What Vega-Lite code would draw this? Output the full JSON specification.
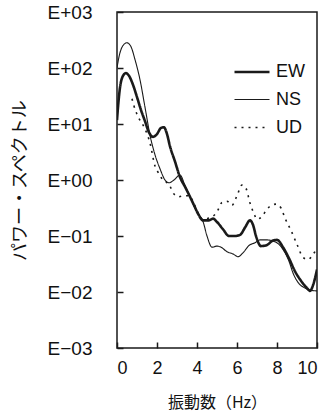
{
 "$schema": "https://vega.github.io/schema/vega-lite/v6.json",
 "width": 200, "height": 336,
 "autosize": {"type": "none"},
 "padding": {"left": 117, "top": 12, "right": 10, "bottom": 64},
 "background": "white",
 "data": {"values": [
  {"f":0.0,"p":11.75,"c":"EW"},{"f":0.05,"p":19.95,"c":"EW"},{"f":0.15,"p":44.67,"c":"EW"},{"f":0.3,"p":72.44,"c":"EW"},{"f":0.45,"p":81.28,"c":"EW"},{"f":0.6,"p":72.44,"c":"EW"},{"f":0.8,"p":50.12,"c":"EW"},{"f":1.0,"p":30.2,"c":"EW"},{"f":1.2,"p":17.78,"c":"EW"},{"f":1.4,"p":11.22,"c":"EW"},{"f":1.6,"p":7.079,"c":"EW"},{"f":1.8,"p":5.888,"c":"EW"},{"f":2.0,"p":6.607,"c":"EW"},{"f":2.2,"p":8.511,"c":"EW"},{"f":2.35,"p":8.71,"c":"EW"},{"f":2.5,"p":6.607,"c":"EW"},{"f":2.65,"p":3.981,"c":"EW"},{"f":2.9,"p":2.138,"c":"EW"},{"f":3.15,"p":1.122,"c":"EW"},{"f":3.4,"p":0.7586,"c":"EW"},{"f":3.65,"p":0.5012,"c":"EW"},{"f":3.85,"p":0.3548,"c":"EW"},{"f":4.05,"p":0.2512,"c":"EW"},{"f":4.3,"p":0.1905,"c":"EW"},{"f":4.6,"p":0.1905,"c":"EW"},{"f":4.8,"p":0.2042,"c":"EW"},{"f":5.0,"p":0.1778,"c":"EW"},{"f":5.3,"p":0.1318,"c":"EW"},{"f":5.6,"p":0.1,"c":"EW"},{"f":5.9,"p":0.1,"c":"EW"},{"f":6.15,"p":0.1047,"c":"EW"},{"f":6.4,"p":0.1413,"c":"EW"},{"f":6.65,"p":0.1905,"c":"EW"},{"f":6.8,"p":0.1585,"c":"EW"},{"f":6.95,"p":0.1,"c":"EW"},{"f":7.2,"p":0.06607,"c":"EW"},{"f":7.5,"p":0.06918,"c":"EW"},{"f":7.8,"p":0.08318,"c":"EW"},{"f":8.0,"p":0.08511,"c":"EW"},{"f":8.3,"p":0.0631,"c":"EW"},{"f":8.6,"p":0.03981,"c":"EW"},{"f":8.9,"p":0.02344,"c":"EW"},{"f":9.2,"p":0.01585,"c":"EW"},{"f":9.5,"p":0.01175,"c":"EW"},{"f":9.65,"p":0.01047,"c":"EW"},{"f":9.8,"p":0.01318,"c":"EW"},{"f":10.0,"p":0.02512,"c":"EW"},
  {"f":0.0,"p":100,"c":"NS"},{"f":0.1,"p":158.5,"c":"NS"},{"f":0.3,"p":251.2,"c":"NS"},{"f":0.5,"p":281.8,"c":"NS"},{"f":0.7,"p":239.9,"c":"NS"},{"f":0.9,"p":141.3,"c":"NS"},{"f":1.15,"p":61.66,"c":"NS"},{"f":1.4,"p":19.95,"c":"NS"},{"f":1.65,"p":6.31,"c":"NS"},{"f":1.9,"p":2.818,"c":"NS"},{"f":2.15,"p":1.585,"c":"NS"},{"f":2.4,"p":1.0,"c":"NS"},{"f":2.6,"p":0.8913,"c":"NS"},{"f":2.85,"p":1.0,"c":"NS"},{"f":3.15,"p":1.23,"c":"NS"},{"f":3.4,"p":0.7943,"c":"NS"},{"f":3.65,"p":0.5012,"c":"NS"},{"f":3.9,"p":0.3162,"c":"NS"},{"f":4.1,"p":0.2399,"c":"NS"},{"f":4.3,"p":0.182,"c":"NS"},{"f":4.5,"p":0.1,"c":"NS"},{"f":4.75,"p":0.0631,"c":"NS"},{"f":5.0,"p":0.06607,"c":"NS"},{"f":5.2,"p":0.0631,"c":"NS"},{"f":5.5,"p":0.05248,"c":"NS"},{"f":5.8,"p":0.04786,"c":"NS"},{"f":6.05,"p":0.04266,"c":"NS"},{"f":6.3,"p":0.05012,"c":"NS"},{"f":6.6,"p":0.06761,"c":"NS"},{"f":6.9,"p":0.07586,"c":"NS"},{"f":7.15,"p":0.08511,"c":"NS"},{"f":7.5,"p":0.08511,"c":"NS"},{"f":7.8,"p":0.08128,"c":"NS"},{"f":8.1,"p":0.07079,"c":"NS"},{"f":8.4,"p":0.05012,"c":"NS"},{"f":8.6,"p":0.03548,"c":"NS"},{"f":8.8,"p":0.02188,"c":"NS"},{"f":9.1,"p":0.01413,"c":"NS"},{"f":9.4,"p":0.01175,"c":"NS"},{"f":9.7,"p":0.01072,"c":"NS"},{"f":10.0,"p":0.01047,"c":"NS"},
  {"f":0.75,"p":28.18,"c":"UD"},{"f":0.85,"p":20.89,"c":"UD"},{"f":1.1,"p":12.59,"c":"UD"},{"f":1.35,"p":8.913,"c":"UD"},{"f":1.65,"p":4.571,"c":"UD"},{"f":1.9,"p":1.778,"c":"UD"},{"f":2.05,"p":1.38,"c":"UD"},{"f":2.3,"p":1.0,"c":"UD"},{"f":2.6,"p":0.8318,"c":"UD"},{"f":2.85,"p":0.5623,"c":"UD"},{"f":3.1,"p":0.5012,"c":"UD"},{"f":3.35,"p":0.5248,"c":"UD"},{"f":3.6,"p":0.5248,"c":"UD"},{"f":3.8,"p":0.4169,"c":"UD"},{"f":4.0,"p":0.2818,"c":"UD"},{"f":4.3,"p":0.1995,"c":"UD"},{"f":4.6,"p":0.2089,"c":"UD"},{"f":5.0,"p":0.2692,"c":"UD"},{"f":5.25,"p":0.3981,"c":"UD"},{"f":5.5,"p":0.4169,"c":"UD"},{"f":5.75,"p":0.3548,"c":"UD"},{"f":6.0,"p":0.5248,"c":"UD"},{"f":6.25,"p":0.8128,"c":"UD"},{"f":6.45,"p":0.7079,"c":"UD"},{"f":6.65,"p":0.389,"c":"UD"},{"f":6.85,"p":0.2512,"c":"UD"},{"f":7.0,"p":0.1995,"c":"UD"},{"f":7.25,"p":0.2239,"c":"UD"},{"f":7.5,"p":0.302,"c":"UD"},{"f":7.75,"p":0.3548,"c":"UD"},{"f":7.95,"p":0.3715,"c":"UD"},{"f":8.2,"p":0.3162,"c":"UD"},{"f":8.4,"p":0.2089,"c":"UD"},{"f":8.7,"p":0.1259,"c":"UD"},{"f":9.0,"p":0.07079,"c":"UD"},{"f":9.3,"p":0.04169,"c":"UD"},{"f":9.55,"p":0.03802,"c":"UD"},{"f":9.8,"p":0.04677,"c":"UD"},{"f":10.0,"p":0.06026,"c":"UD"}
 ]},
 "mark": {"type": "line", "interpolate": "monotone", "color": "#1a1a1a", "clip": true},
 "encoding": {
  "x": {"field": "f", "type": "quantitative", "scale": {"domain": [0, 10], "nice": false},
   "axis": {"values": [0, 2, 4, 6, 8, 10], "title": "振動数（Hz）", "grid": false, "domain": false,
    "tickSize": -6, "tickColor": "#1a1a1a", "tickWidth": 1.5, "labelPadding": 17, "labelFont": "Liberation Sans", "labelFontSize": 18, "labelColor": "#111",
    "titleFont": "Noto Sans CJK JP", "titleFontSize": 16, "titleFontWeight": "normal", "titleColor": "#111", "titlePadding": 17}},
  "y": {"field": "p", "type": "quantitative", "scale": {"type": "log", "domain": [0.001, 1000]},
   "axis": {"values": [0.001, 0.01, 0.1, 1, 10, 100, 1000], "title": "パワー・スペクトル", "grid": false, "domain": false,
    "labelExpr": "'E' + (datum.value >= 1 ? '+' : '−') + '0' + abs(round(log(datum.value) / LN10))",
    "tickSize": -6, "tickColor": "#1a1a1a", "tickWidth": 1.5, "labelPadding": 31, "labelFont": "Liberation Sans", "labelFontSize": 19, "labelColor": "#111",
    "titleFont": "Noto Sans CJK JP", "titleFontSize": 18, "titleFontWeight": "normal", "titleColor": "#111", "titlePadding": 18}},
  "strokeWidth": {"field": "c", "type": "nominal", "scale": {"type": "ordinal", "domain": ["EW", "NS", "UD"], "range": [2.6, 1.1, 1.6]}, "title": null},
  "strokeDash": {"field": "c", "type": "nominal", "scale": {"domain": ["EW", "NS", "UD"], "range": [[1, 0], [1, 0], [2, 5]]}, "title": null}
 },
 "config": {
  "view": {"stroke": "#1a1a1a", "strokeWidth": 1.5},
  "legend": {"orient": "none", "legendX": 116, "legendY": 41, "symbolType": "stroke", "symbolSize": 1225, "symbolStrokeColor": "#1a1a1a",
   "labelFont": "Liberation Sans", "labelFontSize": 18, "labelColor": "#111", "labelOffset": 5, "rowPadding": -9, "padding": 0}
 }
}
